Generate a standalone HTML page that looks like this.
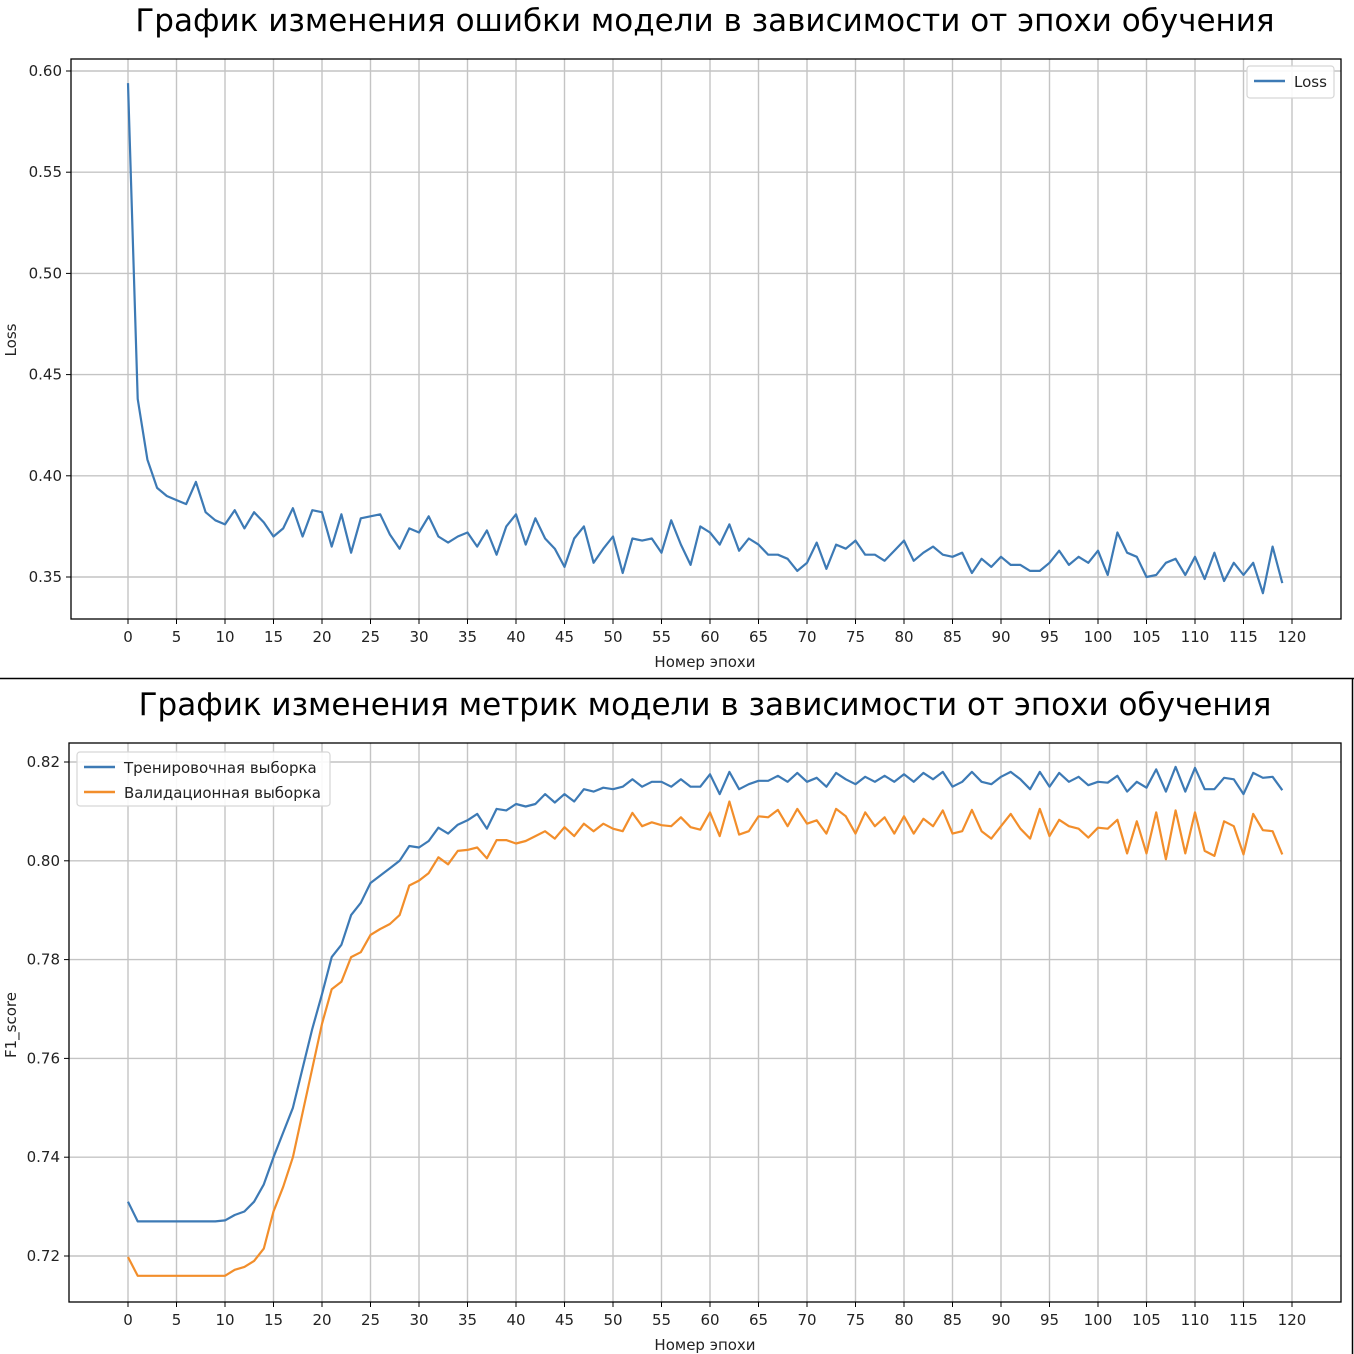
<!DOCTYPE html>
<html><head><meta charset="utf-8">
<style>
html,body{margin:0;padding:0;background:#fff;}
svg{display:block;font-family:"DejaVu Sans","Liberation Sans",sans-serif;}
</style></head>
<body>
<svg id="chart" width="1354" height="1354" viewBox="0 0 1354 1354" xmlns="http://www.w3.org/2000/svg">
<rect x="0" y="0" width="1354" height="1354" fill="#fff"/>
<line x1="0" y1="678.5" x2="1354" y2="678.5" stroke="#000" stroke-width="1.5"/>
<line x1="1352.5" y1="678" x2="1352.5" y2="1354" stroke="#000" stroke-width="1.5"/>
<g id="top"></g>
<g id="bottom"></g>
</svg>
<script>
const epochs = Array.from({length:120},(_, i)=>i);
const xTicks = [0,5,10,15,20,25,30,35,40,45,50,55,60,65,70,75,80,85,90,95,100,105,110,115,120];
const lossTicks = [0.35,0.40,0.45,0.50,0.55,0.60];
const f1Ticks = [0.72,0.74,0.76,0.78,0.80,0.82];
const lossValues = [0.594,0.438,0.408,0.394,0.390,0.388,0.386,0.397,0.382,0.378,0.376,0.383,0.374,0.382,0.377,0.370,0.374,0.384,0.370,0.383,0.382,0.365,0.381,0.362,0.379,0.380,0.381,0.371,0.364,0.374,0.372,0.380,0.370,0.367,0.370,0.372,0.365,0.373,0.361,0.375,0.381,0.366,0.379,0.369,0.364,0.355,0.369,0.375,0.357,0.364,0.370,0.352,0.369,0.368,0.369,0.362,0.378,0.366,0.356,0.375,0.372,0.366,0.376,0.363,0.369,0.366,0.361,0.361,0.359,0.353,0.357,0.367,0.354,0.366,0.364,0.368,0.361,0.361,0.358,0.363,0.368,0.358,0.362,0.365,0.361,0.360,0.362,0.352,0.359,0.355,0.360,0.356,0.356,0.353,0.353,0.357,0.363,0.356,0.360,0.357,0.363,0.351,0.372,0.362,0.360,0.350,0.351,0.357,0.359,0.351,0.360,0.349,0.362,0.348,0.357,0.351,0.357,0.342,0.365,0.347];
const trainF1 = [0.731,0.727,0.727,0.727,0.727,0.727,0.727,0.727,0.727,0.727,0.7272,0.7283,0.729,0.731,0.7345,0.740,0.745,0.750,0.758,0.766,0.773,0.7805,0.783,0.789,0.7915,0.7955,0.797,0.7985,0.800,0.803,0.8027,0.804,0.8067,0.8055,0.8073,0.8082,0.8095,0.8065,0.8105,0.8102,0.8115,0.811,0.8115,0.8135,0.8118,0.8135,0.812,0.8145,0.814,0.8148,0.8145,0.815,0.8165,0.815,0.816,0.816,0.815,0.8165,0.815,0.815,0.8175,0.8135,0.818,0.8145,0.8155,0.8162,0.8162,0.8172,0.816,0.8178,0.816,0.8168,0.815,0.8178,0.8165,0.8155,0.817,0.816,0.8172,0.816,0.8175,0.816,0.8178,0.8165,0.818,0.815,0.816,0.818,0.816,0.8155,0.817,0.818,0.8165,0.8145,0.818,0.815,0.8178,0.816,0.817,0.8153,0.816,0.8158,0.8172,0.814,0.816,0.8148,0.8185,0.814,0.819,0.814,0.8188,0.8145,0.8145,0.8168,0.8165,0.8135,0.8178,0.8168,0.817,0.8143];
const valF1 = [0.7198,0.716,0.716,0.716,0.716,0.716,0.716,0.716,0.716,0.716,0.716,0.7172,0.7178,0.719,0.7215,0.729,0.734,0.740,0.749,0.758,0.767,0.774,0.7755,0.7805,0.7815,0.785,0.7862,0.7872,0.789,0.795,0.796,0.7975,0.8007,0.7993,0.802,0.8022,0.8027,0.8005,0.8042,0.8042,0.8035,0.804,0.805,0.806,0.8045,0.8068,0.805,0.8075,0.806,0.8075,0.8065,0.806,0.8097,0.807,0.8078,0.8072,0.807,0.8088,0.8068,0.8063,0.8098,0.805,0.812,0.8053,0.806,0.809,0.8088,0.8103,0.807,0.8105,0.8075,0.8082,0.8055,0.8105,0.809,0.8055,0.8098,0.807,0.8088,0.8055,0.809,0.8055,0.8085,0.807,0.8102,0.8055,0.806,0.8103,0.806,0.8045,0.807,0.8095,0.8065,0.8045,0.8105,0.805,0.8083,0.807,0.8065,0.8047,0.8067,0.8065,0.8083,0.8015,0.808,0.8015,0.8098,0.8003,0.8102,0.8015,0.8098,0.802,0.801,0.808,0.807,0.8013,0.8095,0.8062,0.806,0.8013];

const NS="http://www.w3.org/2000/svg";
function mk(parent,tag,attrs,text){const e=document.createElementNS(NS,tag);for(const k in attrs)e.setAttribute(k,attrs[k]);if(text!==undefined)e.textContent=text;parent.appendChild(e);return e;}

function drawPanel(g, cfg){
  const xs = v => 128 + (v/120)*(1292-128);
  const ys = v => cfg.y0px + (v-cfg.y0)/(cfg.y1-cfg.y0)*(cfg.y1px-cfg.y0px);
  const t = mk(g,'text',{x:705,y:cfg.titleY,'text-anchor':'middle','font-size':31,fill:'#000'},cfg.title);
  
  
  xTicks.forEach(v=>{
    const l=mk(g,'line',{x1:xs(v),x2:xs(v),y1:cfg.top,y2:cfg.bot,stroke:'#c4c4c4','stroke-width':1.4});
    
    
    mk(g,'line',{x1:xs(v),x2:xs(v),y1:cfg.bot,y2:cfg.bot+5,stroke:'#000','stroke-width':1});
    const tl=mk(g,'text',{x:xs(v),y:cfg.bot+23,'text-anchor':'middle','font-size':15,fill:'#222'},String(v));
    
    
  });
  cfg.ticks.forEach(v=>{
    const l=mk(g,'line',{x1:cfg.left,x2:cfg.right,y1:ys(v),y2:ys(v),stroke:'#c4c4c4','stroke-width':1.4});
    
    
    mk(g,'line',{x1:cfg.left-5,x2:cfg.left,y1:ys(v),y2:ys(v),stroke:'#000','stroke-width':1});
    const tl=mk(g,'text',{x:cfg.left-9,y:ys(v)+5,'text-anchor':'end','font-size':15,fill:'#222'},v.toFixed(2));
    
    
  });
  cfg.series.forEach(s=>{
    const d=s.values.map((v,i)=>(i?'L':'M')+xs(epochs[i]).toFixed(1)+','+ys(v).toFixed(1)).join('');
    const p=mk(g,'path',{d:d,fill:'none',stroke:s.color,'stroke-width':2.2,'stroke-linejoin':'round'});
    
    
  });
  const box=mk(g,'rect',{x:cfg.left,y:cfg.top,width:cfg.right-cfg.left,height:cfg.bot-cfg.top,fill:'none',stroke:'#000','stroke-width':1.3});
  
  
  const xl=mk(g,'text',{x:705,y:cfg.bot+48,'text-anchor':'middle','font-size':15,fill:'#222'},'Номер эпохи');
  
  
  const yl=mk(g,'text',{x:0,y:0,'text-anchor':'middle','font-size':15,fill:'#222',transform:`translate(16,${cfg.ylabelY}) rotate(-90)`},cfg.ylabel);
  
  
  const lg=mk(g,'g',{});
  
  
  mk(lg,'rect',{x:cfg.leg.x,y:cfg.leg.y,width:cfg.leg.w,height:cfg.leg.h,rx:3,fill:'#fff','fill-opacity':0.9,stroke:'#d6d6d6','stroke-width':1.2});
  cfg.series.forEach((s,i)=>{
    const yy=cfg.leg.y+15+i*25;
    const e=mk(lg,'g',{});
    
    
    mk(e,'line',{x1:cfg.leg.x+7,x2:cfg.leg.x+38,y1:yy,y2:yy,stroke:s.color,'stroke-width':2.5});
    mk(e,'text',{x:cfg.leg.x+47,y:yy+6,'font-size':15,fill:'#222'},s.label);
  });
}

drawPanel(document.getElementById('top'),{
  title:'График изменения ошибки модели в зависимости от эпохи обучения',titleY:31,
  left:71,right:1341,top:59,bot:619,y0:0.35,y1:0.60,y0px:577,y1px:71,ticks:lossTicks,
  ylabel:'Loss',ylabelY:340,
  leg:{x:1247,y:66,w:87,h:32},
  series:[{name:'loss-line',label:'Loss',color:'#3d7ab5',values:lossValues}]
});
drawPanel(document.getElementById('bottom'),{
  title:'График изменения метрик модели в зависимости от эпохи обучения',titleY:715,
  left:69,right:1341,top:743,bot:1302,y0:0.72,y1:0.82,y0px:1256,y1px:762,ticks:f1Ticks,
  ylabel:'F1_score',ylabelY:1025,
  leg:{x:77,y:752,w:253,h:54},
  series:[{name:'train-f1-line',label:'Тренировочная выборка',color:'#3d7ab5',values:trainF1},
          {name:'val-f1-line',label:'Валидационная выборка',color:'#f28e2b',values:valF1}]
});
</script>
</body></html>
